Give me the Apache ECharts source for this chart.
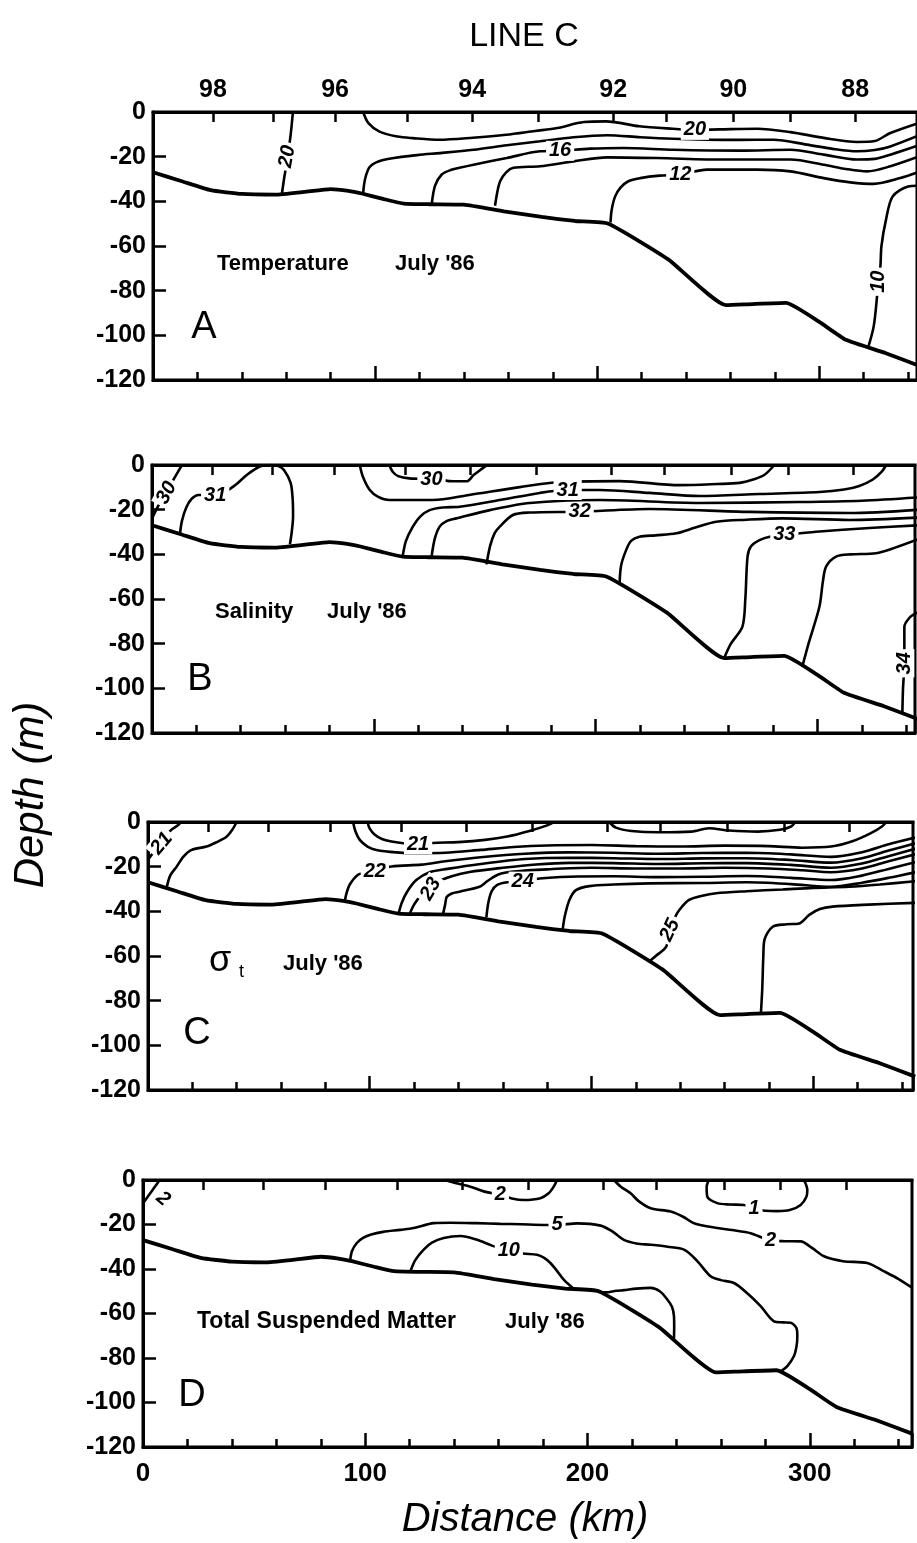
<!DOCTYPE html>
<html><head><meta charset="utf-8">
<script src="https://cdn.jsdelivr.net/npm/echarts@6/dist/echarts.min.js"></script>
<style>html,body{margin:0;padding:0;background:#fff}#c{width:917px;height:1543px}</style>
</head><body><div id="c"></div>
<script>
// ---------- shared data ----------
const bathyKm    = [0, 13, 26, 40, 55, 68, 80, 88, 94, 104, 113, 125, 140, 158, 175, 190, 205, 232, 258, 270, 285, 300, 312, 330, 346];
const bathyDepth = [-27, -31, -35, -36.7, -37, -35.8, -34.5, -35.3, -36.5, -39, -41, -41.3, -41.5, -44.5, -47, -48.8, -50, -66, -86.5, -86, -85.5, -94, -102, -108, -114];
const lonKm     = [27.0, 54.1, 82.0, 114.4, 143.7, 173.4, 207.2, 231.1, 261.3, 286.9, 316.2];
const lonLabels = ['98', '97', '96', '95', '94', '93', '92', '91', '90', '89', '88'];
const depthTicks = [0, -20, -40, -60, -80, -100, -120];
const distLabels = [0, 100, 200, 300];

// ---------- A: temperature ----------
const tA_20left = [[63,0],[62,-10],[60.5,-21],[59,-30],[58,-37]];
const tA_20 = [[94.6,0],[97,-5],[102,-8.8],[110,-11],[117,-11.7],[129,-12.4],[144,-11.5],[159,-10.2],[172,-8.5],[182,-7.2],[194,-4.5],[204,-4.2],[219,-6.4],[234,-7.5],[244,-8],[255,-7.8],[272,-7.5],[287,-9],[302,-11.6],[317,-13.4],[325,-13],[332,-9.4],[346,-4.5]];
const tA_18 = [[94.6,-36.5],[95.5,-30],[97.7,-24.5],[103.6,-21.5],[119,-19.3],[129.3,-18.4],[144.3,-16.9],[159.3,-14.9],[174.3,-13.1],[189.3,-11.3],[204.4,-10.4],[219.4,-11.3],[234,-12],[249.4,-12.4],[264,-12.5],[279.4,-12.4],[294.4,-14.6],[306,-16.5],[317,-17.6],[325,-17],[332,-15.4],[346,-10]];
const tA_16 = [[125.5,-41.3],[127,-33],[130,-28],[134,-26],[138,-25],[144.3,-23.6],[159.3,-20.6],[174.3,-17.6],[183.3,-17.4],[196.8,-16.4],[211.8,-16.1],[234.4,-16.9],[264.4,-17.3],[287,-16.9],[302,-19.1],[317,-21.3],[325,-21],[332,-19.1],[346,-14.5]];
const tA_14 = [[154,-42],[155,-36],[156.3,-31],[159,-27],[162.3,-25],[174.3,-24.3],[189.3,-22.1],[204.4,-20.3],[226.9,-20.6],[257,-21.3],[287,-21.3],[302,-23.6],[312,-25.5],[321.5,-26.6],[332,-24.3],[346,-19.5]];
const tA_12 = [[206,-49.5],[206.5,-44],[208,-38],[210.4,-34],[214,-31],[219.4,-29.6],[228,-28.5],[237.4,-28],[249.4,-25.8],[272,-25.8],[287,-26.6],[302,-29.6],[314,-31.5],[324.5,-32.2],[336.5,-29.6],[346,-26.5]];
const tA_10 = [[346,-33],[340,-33.4],[333,-37.9],[330,-48.4],[328,-60],[327.5,-69.3],[326.6,-75.2],[326,-82.7],[324.5,-96],[322,-105.5]];
const tempLabelText = ['20', '20', '16', '12', '10'];
const tempLabelPos  = [[60.5,-20], [244,-8], [183.3,-17.4], [237.4,-28], [326.6,-76]];
const tempLabelRot  = [80, 0, 0, 0, 90];

// ---------- B: salinity ----------
const sB_30a = [[0,-24],[3,-18],[6.6,-12],[10,-6],[13.5,0]];
const sB_31a = [[12.6,-31],[13.5,-25],[15.6,-18.7],[18,-15],[21,-13.4],[29,-13.4],[36.6,-9.7],[42.7,-4.5],[48.6,-0.7],[53,0],[57,-0.5],[59.5,-2.2],[62.5,-8],[63.4,-15],[63.6,-23.1],[63,-30],[62.2,-35.5]];
const sB_30b = [[107,0],[108.5,-3],[111,-5],[116,-6],[127,-6.3],[136,-7.3],[142,-7.3],[145,-4.5],[149,-1.5],[151,0]];
const sB_305 = [[93.7,0],[95,-5],[98.2,-11.2],[102,-14.3],[107,-15.7],[126.6,-15.7],[143,-13.4],[165.8,-9.9],[183.8,-7.6],[210.8,-7.2],[237.8,-9],[255,-8.5],[264.9,-8],[271,-6.5],[276,-4.5],[280.6,0]];
const sB_31 = [[113,-41],[114.5,-34],[117.6,-27.6],[121,-23],[125.2,-20.2],[131,-19],[138.7,-18.7],[156.8,-15.7],[174.8,-12.5],[187.4,-11.2],[201.8,-11.2],[224.3,-12.5],[246.8,-13.9],[273.9,-13],[300.9,-12.1],[312,-11],[318.9,-9.4],[325,-6.5],[329,-3],[331,0]];
const sB_315 = [[126,-41.3],[127.5,-33],[129.7,-27.6],[133,-25],[137.2,-23.9],[152.3,-20.2],[170.3,-17],[201.8,-15.7],[246.8,-17],[291.9,-16.6],[320,-16],[346,-14.5]];
const sB_32 = [[150.8,-44.5],[152.5,-36],[154.5,-30.5],[156.8,-27.6],[162.7,-22.4],[170,-21.3],[192.8,-20.9],[224.3,-19.7],[269.4,-21],[314.4,-21.5],[346,-20]];
const sB_325 = [[210.8,-53.4],[211.5,-45],[213.8,-38],[216,-34],[219.8,-32.1],[227,-31.5],[236.4,-30.6],[245,-28],[254.4,-25.4],[268,-24.5],[284.2,-23.9],[314.4,-24.6],[346,-23.5]];
const sB_33 = [[258,-86.4],[261,-80],[266.2,-72.4],[267.5,-60],[268.5,-41],[270,-36.5],[273.9,-33.6],[279,-32],[285.1,-31.3],[299.4,-29.9],[323.4,-28.2],[346,-27]];
const sB_335 = [[293.2,-90.3],[296,-80],[300.9,-63.5],[302.5,-52],[303.9,-45.5],[308.4,-41],[315,-40],[326.4,-39.5],[335,-37],[346,-33]];
const sB_34 = [[338.3,-111.3],[338.6,-100],[339.2,-88.8],[339.2,-72.4],[341.4,-68.5],[344,-66.5],[346,-66]];
const salLabelText = ['30', '31', '30', '31', '32', '33', '34'];
const salLabelPos  = [[6.6,-12.5], [28.5,-13.6], [126,-6.3], [187.4,-11.2], [192.8,-21], [285.1,-31.3], [339.2,-88.8]];
const salLabelRot  = [62, 0, 0, 0, 0, 0, 90];

// ---------- C: sigma-t ----------
const cC_21a = [[0,-17],[1.7,-14.6],[6.2,-10],[10,-4],[13.5,-1.5],[15,0]];
const cC_215a = [[8.4,-29.5],[10,-24],[12.9,-20],[16,-15.5],[19.7,-12.5],[26.4,-11],[31,-9],[35.4,-6.6],[38,-3.5],[40,0]];
const cC_21 = [[99,0],[100,-3],[102.3,-5.7],[105.5,-7.6],[109.8,-8.7],[116,-9.6],[121.8,-10],[128.5,-9.4],[140,-9],[152,-8],[162,-6.5],[172,-4],[180,-1.5],[183,0]];
const cC_21b = [[208,0],[211,-2.5],[218,-4],[230,-4.6],[245,-4.3],[253,-2.8],[262,-3.8],[275,-4.3],[285,-3.5],[290,-2],[292,0]];
const cC_215 = [[92.5,0],[93.5,-4],[95.5,-8],[99,-11],[103,-12.5],[112,-13.6],[121,-14],[134,-13.8],[150,-12.5],[165,-11.2],[180,-10.5],[200,-10.3],[220,-10.8],[240,-11],[260,-10.6],[280,-10.8],[295,-11.5],[308,-11],[318,-8.5],[326,-5],[331,-2],[333,0]];
const cC_22 = [[88.7,-35.7],[89.5,-32],[91,-28],[94.7,-23.6],[98,-22.8],[102.3,-22],[109.8,-19.9],[123.3,-19.1],[134,-17.6],[150,-15.8],[170,-14.2],[190,-13.6],[210,-13.8],[230,-14.2],[250,-13.9],[270,-13.8],[290,-14.5],[308,-15.6],[322,-13.5],[334,-10],[346,-7]];
const cC_225 = [[113,-41],[114.5,-36],[117,-31],[121,-26],[127,-22.5],[135,-21],[150,-18.8],[170,-16.6],[190,-16],[210,-16.2],[230,-16.6],[250,-16.3],[270,-16.2],[290,-17],[308,-18.2],[322,-16.2],[334,-12.8],[346,-9.5]];
const cC_23 = [[118,-41.2],[120,-37],[123,-33],[127.5,-30],[131.5,-26.5],[137,-24.3],[145,-22.4],[160,-20.5],[175,-19],[190,-18.3],[210,-18.4],[230,-18.8],[250,-18.5],[270,-18.4],[290,-19.2],[308,-20.5],[322,-18.6],[334,-15.3],[346,-12]];
const cC_235 = [[133,-41.4],[134,-37],[134.7,-33.6],[137,-32],[140.5,-31.2],[149.5,-29],[153,-26.5],[158,-23.5],[165,-22.2],[180,-21.2],[200,-20.5],[220,-20.8],[240,-20.8],[260,-20.5],[280,-20.8],[295,-21.6],[308,-22.5],[322,-20.8],[334,-17.6],[346,-14.5]];
const cC_24 = [[152.6,-42.7],[153.5,-36],[155,-31],[157.5,-28.2],[162,-27],[169,-26.7],[176.6,-25.3],[190,-24.5],[210,-24.3],[230,-24.7],[250,-24.5],[270,-24.2],[290,-25],[308,-26],[322,-24],[334,-21],[346,-18]];
const cC_245 = [[187,-48.2],[188,-42],[190,-35],[193,-30.5],[199,-28.7],[210,-28],[226,-27.5],[250,-27.3],[270,-27],[290,-27.8],[308,-29],[322,-27.2],[334,-25],[346,-22.5]];
const cC_25 = [[226,-62.5],[229,-60],[233.7,-55.8],[235.4,-48.4],[237.5,-43],[239.6,-39.4],[244,-34.9],[250,-33],[256.2,-31.9],[270,-31],[286.2,-30.2],[300,-29.5],[316.2,-29],[330,-28],[346,-26.5]];
const cC_255 = [[276.4,-85.8],[277,-75],[277.5,-60],[278,-52.8],[281.7,-46.9],[288,-45.8],[293.7,-45.4],[298.2,-41.6],[303,-39],[308.7,-37.9],[325,-37],[346,-36.2]];
const sigLabelText = ['21', '21', '22', '23', '24', '25'];
const sigLabelPos  = [[6.2,-9.6], [121.8,-10], [102.3,-22.3], [127.5,-30], [169,-26.7], [235.4,-48.4]];
const sigLabelRot  = [50, 0, 0, 60, 0, 65];

// ---------- D: total suspended matter ----------
const dD_2a = [[0,-10.5],[2.5,-7],[5,-3.5],[7.5,0]];
const dD_5 = [[93.2,-36.3],[94,-32],[96.2,-28.3],[99,-26],[102.3,-24.6],[108,-23.3],[115.8,-22.4],[121.8,-21.6],[130.8,-19.4],[138.3,-19.2],[150,-19.4],[160.8,-19.7],[170,-19.9],[180.3,-20.2],[186.3,-20.2],[195.4,-19.5],[205.9,-20.5],[211,-23],[216.4,-26.9],[222,-28.5],[228.4,-29.1],[236,-30],[243.4,-31.3],[249,-36],[255.4,-43.3],[260,-45],[265.9,-46.3],[272,-51],[277.9,-56.7],[283.9,-63.5],[288,-64],[291.4,-64.2],[294,-66.5],[294.4,-70.2],[294,-75],[292.9,-79.1],[290,-83.5],[286.9,-86]];
const dD_10 = [[120.3,-41.1],[122.5,-36],[126.3,-31.3],[130,-28.2],[135.3,-26.1],[142.8,-25.2],[150.3,-26.9],[157,-29.5],[164.6,-31.8],[171,-33],[177.3,-33.6],[180.5,-35],[183.3,-37.3],[186,-40.5],[189.3,-44.8],[193.8,-48.9]];
const dD_10b = [[204.5,-50.2],[208,-50.5],[213,-49.8],[216.4,-49.5],[222,-48.8],[228.4,-48.5],[232.5,-50],[235.9,-53.7],[238,-57],[238.9,-61.2],[239,-66],[238.9,-71.3]];
const dD_2b = [[136,0],[141,-1.5],[147.3,-3],[153,-5],[160.8,-6.7],[166,-8.3],[171.3,-9],[178.8,-8.2],[182.5,-6],[184.8,-3],[186.3,0]];
const dD_2 = [[211.9,0],[215,-3],[219.4,-6],[223,-9.5],[228.4,-12.7],[237.4,-14.2],[243,-16.5],[247.9,-19.4],[258.4,-21.6],[265,-22.5],[273.4,-23.9],[282.4,-27.2],[289,-27.5],[295.9,-27.6],[301,-30.5],[306.4,-34.3],[315,-36.5],[325.9,-37.3],[333.5,-41.1],[340,-44.5],[346.2,-48.5]];
const dD_1 = [[254.6,0],[253.6,-3],[253.9,-7.5],[258.4,-10.4],[264,-11],[270.4,-11.2],[274.9,-13],[280,-13.8],[285.4,-14],[291,-13.5],[295.9,-11.2],[298.5,-7.5],[298.9,-4.5],[297.4,0]];
const tsmLabelText = ['2', '2', '5', '10', '2', '1'];
const tsmLabelPos  = [[9,-8.5], [160.8,-6.6], [186.3,-20.2], [164.6,-31.8], [282.4,-27.3], [274.9,-13]];
const tsmLabelRot  = [-40, 0, 0, 0, 0, 0];

// ---------- layout ----------
const FONT = "'Liberation Sans', Arial, Helvetica, sans-serif";
const gridBoxes = [
  {left:153, top:112, width:764, height:268, xmax:344},
  {left:152, top:465, width:763, height:268, xmax:344},
  {left:148, top:822, width:765, height:268, xmax:345},
  {left:143, top:1180, width:769, height:267, xmax:346}
];
const panelLines = [
  [tA_20left, tA_20, tA_18, tA_16, tA_14, tA_12, tA_10],
  [sB_30a, sB_31a, sB_30b, sB_305, sB_31, sB_315, sB_32, sB_325, sB_33, sB_335, sB_34],
  [cC_21a, cC_215a, cC_21, cC_21b, cC_215, cC_22, cC_225, cC_23, cC_235, cC_24, cC_245, cC_25, cC_255],
  [dD_2a, dD_5, dD_10, dD_10b, dD_2b, dD_2, dD_1]
];
const panelLabels = [
  [tempLabelText, tempLabelPos, tempLabelRot],
  [salLabelText, salLabelPos, salLabelRot],
  [sigLabelText, sigLabelPos, sigLabelRot],
  [tsmLabelText, tsmLabelPos, tsmLabelRot]
];

const grid = [], xAxis = [], yAxis = [], series = [];
const axisLineStyle = {color:'#000', width:3};
const tickStyle = {color:'#000', width:2.5};
const lonLabelKm = lonKm.filter((k, i) => i % 2 === 0);

gridBoxes.forEach((g, i) => {
  grid.push({left:g.left, top:g.top, width:g.width, height:g.height, show:true, borderColor:'#000', borderWidth:3, backgroundColor:'transparent'});
  xAxis.push({
    gridIndex:i, type:'value', min:0, max:g.xmax, interval:100, position:'bottom',
    axisLine:{show:true, onZero:false, lineStyle:axisLineStyle},
    axisTick:{show:true, inside:true, length:14, lineStyle:tickStyle},
    minorTick:{show:true, splitNumber:5, length:8, lineStyle:tickStyle},
    axisLabel:{show:i === 3, showMaxLabel:false, margin:14, color:'#000', fontSize:26, fontWeight:'bold', fontFamily:FONT,
      formatter: v => distLabels.indexOf(v) >= 0 ? String(v) : ''},
    splitLine:{show:false}, minorSplitLine:{show:false}
  });
  xAxis.push({
    gridIndex:i, type:'value', min:0, max:g.xmax, position:'top',
    axisLine:{show:true, onZero:false, lineStyle:axisLineStyle},
    axisTick:{show:true, inside:true, length:10, lineStyle:tickStyle, customValues:lonKm},
    axisLabel:{show:i === 0, customValues:lonLabelKm, margin:9, color:'#000', fontSize:25, fontWeight:'bold', fontFamily:FONT,
      formatter: v => {
        let best = 0;
        lonKm.forEach((k, j) => { if (Math.abs(k - v) < Math.abs(lonKm[best] - v)) best = j; });
        return lonLabels[best];
      }},
    splitLine:{show:false}
  });
  yAxis.push({
    gridIndex:i, type:'value', min:-120, max:0, interval:20,
    axisLine:{show:true, onZero:false, lineStyle:axisLineStyle},
    axisTick:{show:true, inside:true, length:13, lineStyle:tickStyle},
    axisLabel:{margin:7, color:'#000', fontSize:25, fontWeight:'bold', fontFamily:FONT,
      formatter: v => depthTicks.indexOf(v) >= 0 ? String(v) : ''},
    splitLine:{show:false}
  });
  series.push({
    type:'line', xAxisIndex:2 * i, yAxisIndex:i, data:bathyKm.map((k, j) => [k, bathyDepth[j]]),
    showSymbol:false, symbol:'none', smooth:0.15, silent:true, z:4, animation:false,
    lineStyle:{color:'#000', width:3.8}
  });
  panelLines[i].forEach(pts => {
    series.push({
      type:'line', xAxisIndex:2 * i, yAxisIndex:i, data:pts,
      showSymbol:false, symbol:'none', smooth:0.3, silent:true, z:3, animation:false,
      lineStyle:{color:'#000', width:2.6}
    });
  });
  const [txt, pos, rot] = panelLabels[i];
  series.push({
    type:'scatter', xAxisIndex:2 * i, yAxisIndex:i, symbolSize:0, silent:true, z:6, animation:false,
    itemStyle:{color:'#000'},
    data: txt.map((t, j) => ({name:t, value:pos[j], label:{rotate:rot[j]}})),
    label:{show:true, position:'inside', formatter:'{b}', color:'#000', opacity:1, fontSize:20, fontWeight:'bold', fontStyle:'italic',
      fontFamily:FONT, backgroundColor:'#fff', padding:[0, 3], textBorderWidth:0}
  });
});

const txt = (x, y, text, size, opts) => Object.assign({
  type:'text', x:x, y:y, z:10,
  style:Object.assign({text:text, fontSize:size, fontFamily:FONT, fill:'#000', align:'left', verticalAlign:'middle'}, (opts && opts.style) || {})
}, (opts && opts.el) || {});

const graphic = [
  txt(524, 37, 'LINE C', 34, {style:{align:'center'}}),
  txt(217, 264, 'Temperature', 22, {style:{fontWeight:'bold'}}),
  txt(395, 264, "July '86", 22, {style:{fontWeight:'bold'}}),
  txt(204, 328, 'A', 38, {style:{align:'center'}}),
  txt(215, 612, 'Salinity', 22, {style:{fontWeight:'bold'}}),
  txt(327, 612, "July '86", 22, {style:{fontWeight:'bold'}}),
  txt(200, 680, 'B', 38, {style:{align:'center'}}),
  txt(209, 961, 'σ', 36, {}),
  txt(239, 972, 't', 18, {}),
  txt(283, 964, "July '86", 22, {style:{fontWeight:'bold'}}),
  txt(197, 1034, 'C', 38, {style:{align:'center'}}),
  txt(197, 1322, 'Total Suspended Matter', 23, {style:{fontWeight:'bold'}}),
  txt(505, 1322, "July '86", 22, {style:{fontWeight:'bold'}}),
  txt(192, 1396, 'D', 38, {style:{align:'center'}}),
  txt(525, 1520, 'Distance (km)', 40, {style:{align:'center', fontStyle:'italic'}}),
  txt(31, 795, 'Depth (m)', 42, {style:{align:'center', fontStyle:'italic'}, el:{rotation:Math.PI / 2}})
];

const chart = echarts.init(document.getElementById('c'), null, {renderer:'canvas'});
chart.setOption({
  animation:false, backgroundColor:'#fff',
  grid, xAxis, yAxis, series, graphic
});
</script>
</body></html>
